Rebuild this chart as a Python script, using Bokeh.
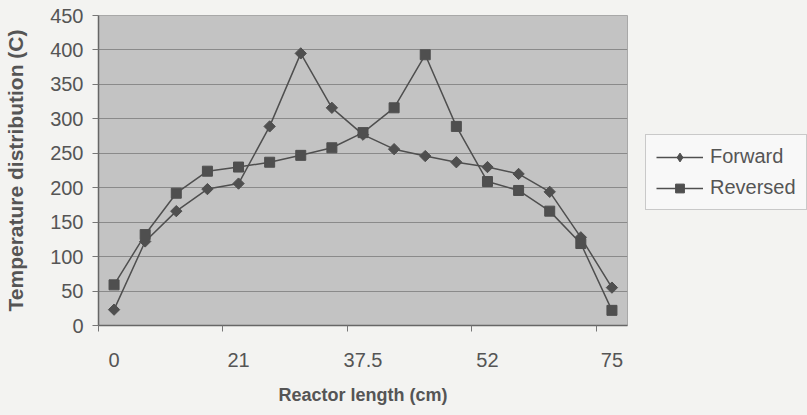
import math
from bokeh.plotting import figure
from bokeh.layouts import row
from bokeh.models import FixedTicker, Legend, LegendItem, Range1d
from bokeh.embed import file_html
from bokeh.resources import INLINE

# category index along the reactor (17 measurement points)
positions = list(range(17))
tick_positions = [0, 4, 8, 12, 16]
tick_labels = ["0", "21", "37.5", "52", "75"]
forward = [23, 122, 166, 198, 206, 289, 395, 316, 277, 256, 246, 237, 230, 220, 194, 128, 55]
reversed_ = [59, 132, 192, 224, 230, 237, 247, 258, 280, 316, 393, 289, 209, 196, 166, 119, 22]
series_names = ["Forward", "Reversed"]

FONT = "Liberation Sans"
TXT = "#555555"
LINE = "#4f4f4f"
PAGE = "#f3f3f1"

p = figure(width=628, height=415, output_backend="svg", toolbar_location=None,
           x_range=Range1d(-0.5, 16.5), y_range=Range1d(0, 450),
           min_border_left=98, min_border_right=1, min_border_top=15, min_border_bottom=90)
p.background_fill_color = "#c3c3c3"
p.border_fill_color = PAGE
p.outline_line_color = "#a8a8a8"

p.xgrid.grid_line_color = None
p.ygrid.grid_line_color = "#8a8a8a"
p.ygrid.grid_line_width = 1

# x axis: labels at category centres, tick marks between categories
p.xaxis.ticker = FixedTicker(ticks=tick_positions, minor_ticks=[t - 0.5 for t in tick_positions])
p.xaxis.major_label_overrides = {t: l for t, l in zip(tick_positions, tick_labels)}
p.xaxis.major_tick_line_color = None
p.xaxis.major_tick_out = 0
p.xaxis.major_tick_in = 0
p.xaxis.minor_tick_line_color = "#777777"
p.xaxis.minor_tick_out = 6
p.xaxis.minor_tick_in = 0
p.xaxis.major_label_standoff = 21
p.xaxis.axis_label = "Reactor length (cm)"
p.xaxis.axis_label_standoff = 15
p.xaxis.axis_label_text_font_size = "18px"

# y axis
p.yaxis.ticker = FixedTicker(ticks=list(range(0, 451, 50)))
p.yaxis.major_tick_out = 6
p.yaxis.major_tick_in = 0
p.yaxis.minor_tick_line_color = None
p.yaxis.major_tick_line_color = "#777777"
p.yaxis.major_label_standoff = 9
p.yaxis.axis_label = "Temperature distribution (C)"
p.yaxis.axis_label_standoff = 20
p.yaxis.axis_label_text_font_size = "21px"

for ax in (p.xaxis, p.yaxis):
    ax.axis_line_color = "#666666"
    ax.axis_line_width = 1.5
    ax.major_label_text_font = FONT
    ax.major_label_text_font_size = "20px"
    ax.major_label_text_color = TXT
    ax.axis_label_text_font = FONT
    ax.axis_label_text_font_style = "bold"
    ax.axis_label_text_color = TXT

DIAMOND = dict(marker="square", angle=math.pi / 4, size=8, fill_color=LINE, line_color=LINE)
DIAMOND_LEG = dict(marker="diamond", size=13, fill_color=LINE, line_color=LINE)
SQUARE = dict(marker="square", size=10, fill_color=LINE, line_color=LINE)

p.line(positions, forward, line_color=LINE, line_width=1.5)
p.scatter(positions, forward, **DIAMOND)
p.line(positions, reversed_, line_color=LINE, line_width=1.5)
p.scatter(positions, reversed_, **SQUARE)

# legend panel to the right of the plot (its renderers use the same data, out of view)
q = figure(width=179, height=415, output_backend="svg", toolbar_location=None,
           x_range=Range1d(1000, 1001), y_range=Range1d(1000, 1001), min_border=0)
q.axis.visible = False
q.grid.grid_line_color = None
q.outline_line_color = None
q.background_fill_color = PAGE
q.border_fill_color = PAGE
la = q.line(positions, forward, line_color=LINE, line_width=1.5)
ma = q.scatter(positions, forward, **DIAMOND_LEG)
lb = q.line(positions, reversed_, line_color=LINE, line_width=1.5)
mb = q.scatter(positions, reversed_, **SQUARE)

legend = Legend(items=[LegendItem(label=series_names[0], renderers=[la, ma], index=0),
                       LegendItem(label=series_names[1], renderers=[lb, mb], index=0)],
                location=(17, 115))
legend.label_text_font = FONT
legend.label_text_font_size = "20px"
legend.label_text_color = TXT
legend.glyph_width = 47
legend.glyph_height = 22
legend.label_height = 22
legend.spacing = 8
legend.padding = 10
legend.margin = 0
legend.border_line_color = "#999999"
legend.background_fill_color = "#f8f8f8"
legend.label_standoff = 7
q.add_layout(legend, "center")

layout = row(p, q, spacing=0, styles={"background-color": PAGE})
open("out.html", "w").write(file_html(layout, INLINE))
